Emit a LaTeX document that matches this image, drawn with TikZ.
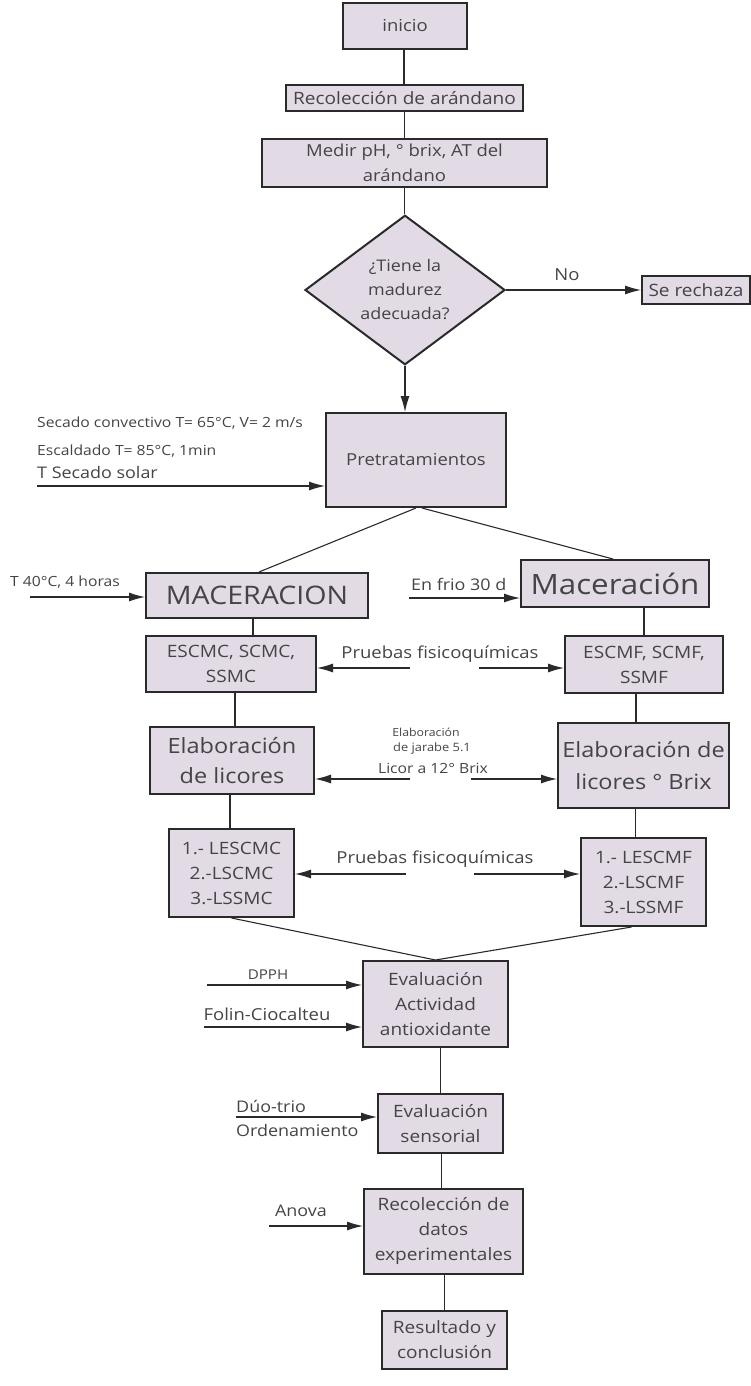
\documentclass[tikz,border=0pt]{standalone}
\usepackage{fontspec}
\setmainfont[FakeStretch=1.12]{Open Sans}
\usetikzlibrary{shapes.geometric,arrows.meta}
\definecolor{boxfill}{RGB}{226,218,228}
\definecolor{boxline}{RGB}{42,42,42}
\definecolor{txtgray}{RGB}{68,68,72}
\newcommand{\fs}[2]{\fontsize{#1}{#2}\selectfont}
\tikzset{
  box/.style={draw=boxline, fill=boxfill, line width=2pt, text=txtgray, align=center, inner sep=0pt, font=\fs{17}{25}},
  flow/.style={draw=boxline, line width=1.1pt},
  feed/.style={flow, -{Latex[length=16pt,width=9pt]}},
  lbl/.style={text=txtgray, inner sep=0pt, align=center, font=\fs{16.5}{24}},
}
\begin{document}
\begin{tikzpicture}[x=1pt,y=-1pt]
  \useasboundingbox (0,0) rectangle (751,1386);
  \node[box, minimum width=124, minimum height=46, font=\fs{16.5}{25}] (ini) at (405,26) {inicio};
  \node[box, minimum width=237, minimum height=26] (rec) at (404.5,98) {Recolección de arándano};
  \node[box, minimum width=285, minimum height=48, font=\fs{16.5}{25}] (med) at (404.5,163) {Medir pH, ° brix, AT del\\arándano};
  \node[box, diamond, minimum width=200, minimum height=138, font=\fs{16}{24}] (dia) at (405,290) {¿Tiene la\\madurez\\adecuada?};
  \node[box, minimum width=108, minimum height=28] (rej) at (696,290) {Se rechaza};
  \node[lbl] (no) at (567,275) {No};
  \node[box, minimum width=180, minimum height=94, font=\fs{16.5}{25}] (pre) at (416,460) {Pretratamientos};
  \node[lbl, anchor=west, font=\fs{14}{16}] (sec1) at (37,423) {Secado convectivo T= 65°C, V= 2 m/s};
  \node[lbl, anchor=west, font=\fs{14}{16}] (sec2) at (37,451) {Escaldado T= 85°C, 1min};
  \node[lbl, anchor=west, font=\fs{16}{20}] (sec3) at (37,472) {T Secado solar};
  \coordinate (secin) at (37,486);

  \node[box, minimum width=222, minimum height=45, font=\fs{25.5}{30}] (macc) at (257,595.5) {MACERACION};
  \node[box, minimum width=188, minimum height=47, font=\fs{28}{32}] (macf) at (615,583.5) {Maceración};
  \node[lbl, anchor=west, font=\fs{14}{16}] (t40) at (10,582) {T 40°C, 4 horas};
  \coordinate (t40in) at (30,597);
  \node[lbl, anchor=west, font=\fs{16}{18}] (frio) at (411,584) {En frio 30 d};
  \coordinate (frioin) at (409,598);

  \node[box, minimum width=170, minimum height=56] (esc) at (231,664) {ESCMC, SCMC,\\SSMC};
  \node[box, minimum width=158, minimum height=57] (esf) at (644,664.5) {ESCMF, SCMF,\\SSMF};
  \node[lbl] (pf1) at (440,654) {Pruebas fisicoquímicas};
  \coordinate (pf1l) at (410,668);
  \coordinate (pf1r) at (479,668);

  \node[box, minimum width=164, minimum height=67, font=\fs{21}{30}] (elc) at (232,760.5) {Elaboración\\de licores};
  \node[box, minimum width=171, minimum height=85, font=\fs{21}{32}] (elf) at (643.5,765.5) {Elaboración de\\licores ° Brix};
  \node[lbl, font=\fs{11}{12}] (jar1) at (426,732) {Elaboración};
  \node[lbl, font=\fs{11.5}{13}] (jar2) at (432,749) {de jarabe 5.1};
  \node[lbl, font=\fs{14}{15}] (jar3) at (433,768) {Licor a 12° Brix};
  \coordinate (jarl) at (410,779);
  \coordinate (jarr) at (471,779);

  \node[box, minimum width=125, minimum height=88] (lc) at (231.5,873) {1.- LESCMC\\2.-LSCMC\\3.-LSSMC};
  \node[box, minimum width=125, minimum height=88] (lf) at (643.5,882) {1.- LESCMF\\2.-LSCMF\\3.-LSSMF};
  \node[lbl] (pf2) at (435,859) {Pruebas fisicoquímicas};
  \coordinate (pf2l) at (406,874);
  \coordinate (pf2r) at (474,874);

  \node[box, minimum width=145, minimum height=86] (eva) at (435.5,1004) {Evaluación\\Actividad\\antioxidante};
  \node[lbl, font=\fs{13.5}{16}] (dpph) at (268,975) {DPPH};
  \coordinate (dpphin) at (207,985);
  \node[lbl] (folin) at (267,1014) {Folin-Ciocalteu};
  \coordinate (folinin) at (204,1027);

  \node[box, minimum width=125, minimum height=59] (sen) at (440.5,1123.5) {Evaluación\\sensorial};
  \node[lbl, anchor=west, font=\fs{16}{18}] (duo) at (236,1106) {Dúo-trio};
  \node[lbl, anchor=west, font=\fs{16}{18}] (orden) at (236,1130) {Ordenamiento};
  \coordinate (duoin) at (236,1117);

  \node[box, minimum width=159, minimum height=85] (dat) at (443.5,1231.5) {Recolección de\\datos\\experimentales};
  \node[lbl, font=\fs{16}{18}] (anova) at (301,1211) {Anova};
  \coordinate (anovain) at (269,1226);

  \node[box, minimum width=125, minimum height=58] (res) at (444.5,1340) {Resultado y\\conclusión};

  \draw[flow] ([xshift=-1pt]ini.south) -- ([xshift=-1pt]ini.south |- rec.north);
  \draw[flow] (rec.south) -- (rec.south |- med.north);
  \draw[flow] (med.south) -- (med.south |- dia.north);
  \draw[feed] (dia.east) -- (rej.west);
  \draw[feed] (dia.south) -- (dia.south |- pre.north);
  \draw[feed] (secin) -- (pre.west |- secin);
  \draw[flow] (pre.south) -- ([xshift=2pt]macc.north);
  \draw[flow] ([xshift=6pt]pre.south) -- ([xshift=-2pt]macf.north);
  \draw[feed] (t40in) -- (macc.west |- t40in);
  \draw[feed] (frioin) -- (macf.west |- frioin);
  \draw[flow] ([xshift=-4pt]macc.south) -- ([xshift=-4pt]macc.south |- esc.north);
  \draw[flow] (esf.north |- macf.south) -- (esf.north);
  \draw[feed] (pf1l) -- (esc.east |- pf1l);
  \draw[feed] (pf1r) -- (esf.west |- pf1r);
  \draw[flow] ([xshift=4pt]esc.south) -- ([xshift=4pt]esc.south |- elc.north);
  \draw[flow] ([xshift=-8pt]esf.south) -- ([xshift=-8pt]esf.south |- elf.north);
  \draw[feed] (jarl) -- (elc.east |- jarl);
  \draw[feed] (jarr) -- (elf.west |- jarr);
  \draw[flow] ([xshift=-2pt]elc.south) -- ([xshift=-2pt]elc.south |- lc.north);
  \draw[flow] ([xshift=-8pt]elf.south) -- ([xshift=-8pt]elf.south |- lf.north);
  \draw[feed] (pf2l) -- (lc.east |- pf2l);
  \draw[feed] (pf2r) -- (lf.west |- pf2r);
  \draw[flow] (lc.south) -- (eva.north);
  \draw[flow] ([xshift=-12pt]lf.south) -- (eva.north);
  \draw[feed] (dpphin) -- (eva.west |- dpphin);
  \draw[feed] (folinin) -- (eva.west |- folinin);
  \draw[flow] (sen.north |- eva.south) -- (sen.north);
  \draw[feed] (duoin) -- (sen.west |- duoin);
  \draw[flow] ([xshift=-2pt]dat.north |- sen.south) -- ([xshift=-2pt]dat.north);
  \draw[feed] (anovain) -- (dat.west |- anovain);
  \draw[flow] (res.north |- dat.south) -- (res.north);
\end{tikzpicture}
\end{document}
